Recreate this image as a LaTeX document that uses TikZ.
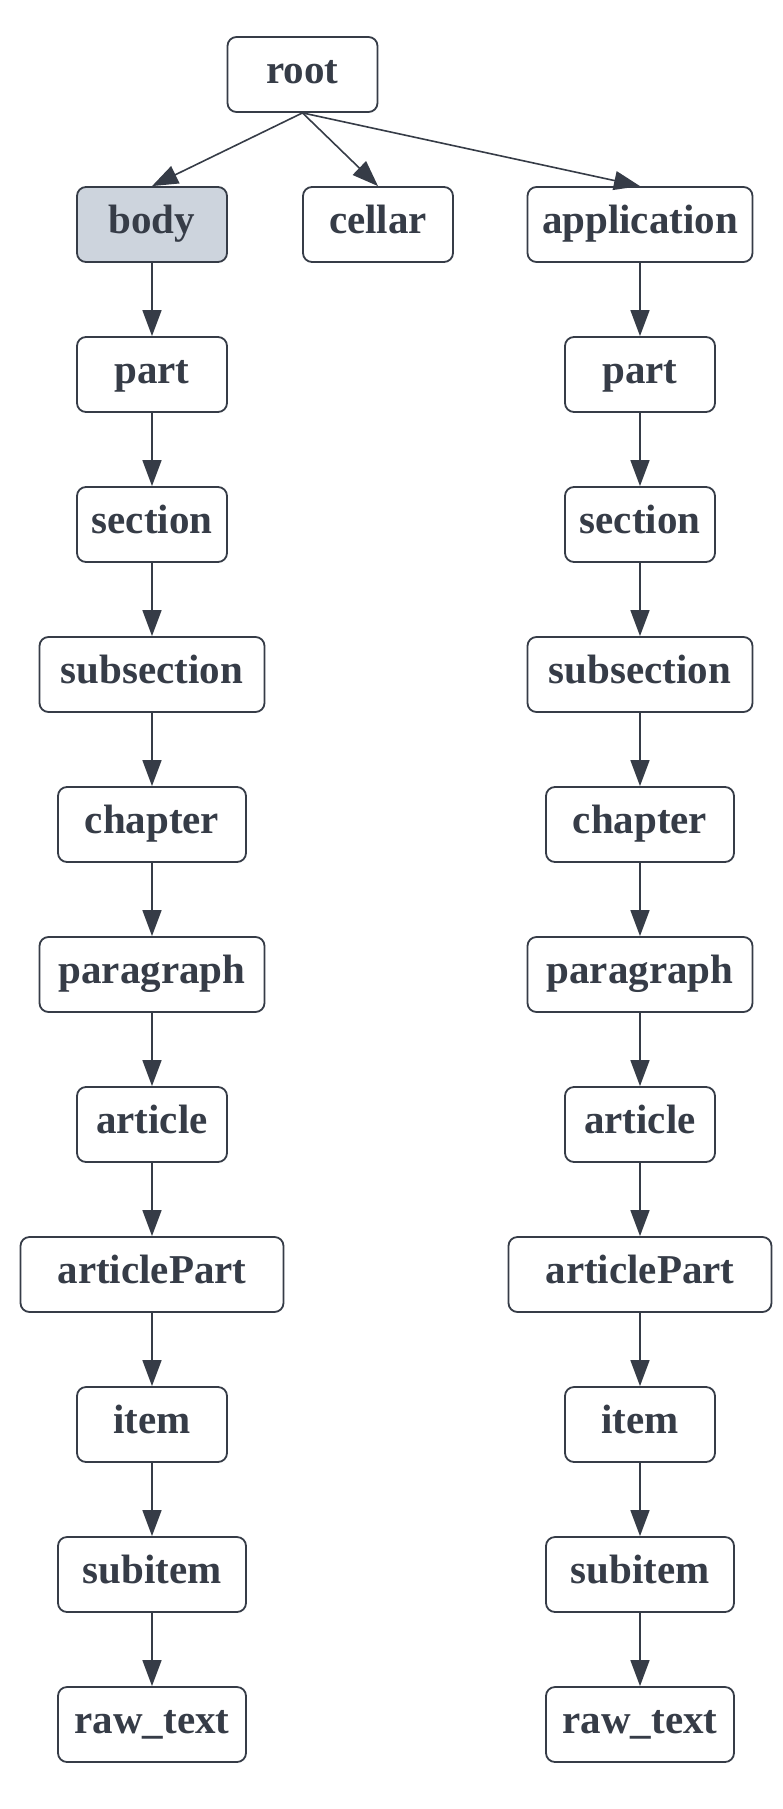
\documentclass[tikz,border=0pt]{standalone}
\usepackage{fontspec}
\setmainfont{Liberation Serif}
\usetikzlibrary{arrows.meta}
\definecolor{ink}{HTML}{363C47}
\definecolor{bodyfill}{HTML}{CDD4DD}
\tikzset{
  box/.style={draw=ink, line width=1.8pt, rounded corners=9pt, fill=white,
    minimum height=75pt, inner sep=0pt, text=ink, text height=28pt, text depth=10.4pt,
    font=\fontsize{41}{48}\selectfont\bfseries},
  w150/.style={minimum width=150pt},
  w188/.style={minimum width=188pt},
  w225/.style={minimum width=225pt},
  w263/.style={minimum width=263pt},
  edge/.style={draw=ink, line width=1.6pt, -{Triangle[length=26pt,width=19pt]}}
}
\begin{document}
\begin{tikzpicture}[x=1pt,y=-1pt]
\useasboundingbox (0,0) rectangle (782,1809);
\node[box,w150] (root) at (302.5,74.5) {root};
\node[box,w150,fill=bodyfill] (body) at (152,224.5) {body};
\node[box,w150] (cellar) at (378,224.5) {cellar};
\node[box,w225] (app) at (640,224.5) {application};
% left column
\node[box,w150] (lpart) at (152,374.5) {part};
\node[box,w150] (lsec) at (152,524.5) {section};
\node[box,w225] (lsub) at (152,674.5) {subsection};
\node[box,w188] (lchap) at (152,824.5) {chapter};
\node[box,w225] (lpara) at (152,974.5) {paragraph};
\node[box,w150] (lart) at (152,1124.5) {article};
\node[box,w263] (lap) at (152,1274.5) {articlePart};
\node[box,w150] (litem) at (152,1424.5) {item};
\node[box,w188] (lsubi) at (152,1574.5) {subitem};
\node[box,w188] (lraw) at (152,1724.5) {raw\_text};
% right column
\node[box,w150] (rpart) at (640,374.5) {part};
\node[box,w150] (rsec) at (640,524.5) {section};
\node[box,w225] (rsub) at (640,674.5) {subsection};
\node[box,w188] (rchap) at (640,824.5) {chapter};
\node[box,w225] (rpara) at (640,974.5) {paragraph};
\node[box,w150] (rart) at (640,1124.5) {article};
\node[box,w263] (rap) at (640,1274.5) {articlePart};
\node[box,w150] (ritem) at (640,1424.5) {item};
\node[box,w188] (rsubi) at (640,1574.5) {subitem};
\node[box,w188] (rraw) at (640,1724.5) {raw\_text};
% edges
\draw[edge] (root.south) -- (body.north);
\draw[edge] (root.south) -- (cellar.north);
\draw[edge] (root.south) -- (app.north);
\foreach \a/\b in {body/lpart,lpart/lsec,lsec/lsub,lsub/lchap,lchap/lpara,lpara/lart,lart/lap,lap/litem,litem/lsubi,lsubi/lraw,
  app/rpart,rpart/rsec,rsec/rsub,rsub/rchap,rchap/rpara,rpara/rart,rart/rap,rap/ritem,ritem/rsubi,rsubi/rraw}
  \draw[edge] (\a.south) -- (\b.north);
\end{tikzpicture}
\end{document}
